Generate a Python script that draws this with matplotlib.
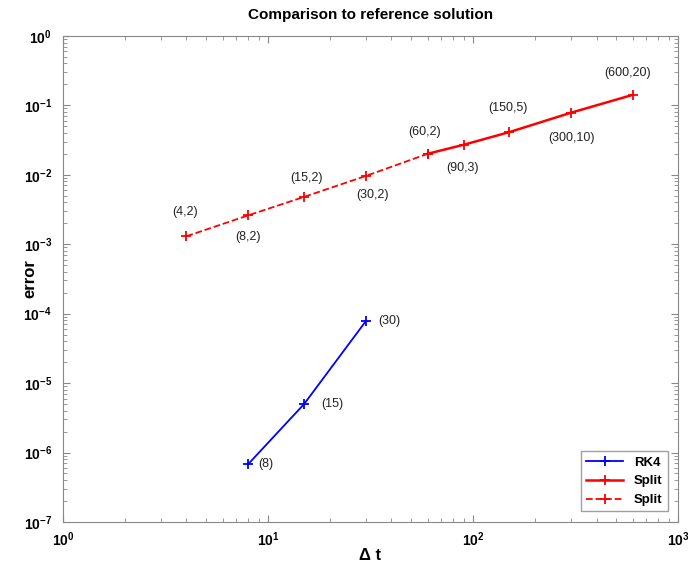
import matplotlib
matplotlib.use("Agg")
import matplotlib.pyplot as plt

plt.rcParams["font.family"] = ["Liberation Sans", "DejaVu Sans"]
plt.rcParams["mathtext.default"] = "regular"

# RK4 runs
rk4_dt = [8, 15, 30]
rk4_err = [6.8e-7, 5.0e-6, 7.8e-5]
rk4_labels = ["(8)", "(15)", "(30)"]

# split runs, large steps (solid)
split_dt = [60, 90, 150, 300, 600]
split_err = [0.020, 0.027, 0.041, 0.078, 0.141]
split_labels = ["(60,2)", "(90,3)", "(150,5)", "(300,10)", "(600,20)"]

# split runs, small steps (dashed)
split2_dt = [4, 8, 15, 30, 60]
split2_err = [1.3e-3, 2.6e-3, 4.8e-3, 9.6e-3, 0.020]
split2_labels = ["(4,2)", "(8,2)", "(15,2)", "(30,2)"]

fig = plt.figure(figsize=(6.88, 5.72), dpi=100)
ax = fig.add_axes([0.0916, 0.0874, 0.894, 0.85])

ax.loglog(rk4_dt, rk4_err, "b-", marker="+", ms=6.5, mew=1.3, lw=1.3, label="RK4")
ax.loglog(split_dt, split_err, "r-", marker="+", ms=6.5, mew=1.3, lw=1.8, label="Split")
ax.loglog(split2_dt, split2_err, "r--", marker="+", ms=6.5, mew=1.3, lw=1.3, label="Split")

# label offsets in pixels
rk4_off = [(10, 0), (17, 0), (12, 0)]
for x, y, s, (dx, dy) in zip(rk4_dt, rk4_err, rk4_labels, rk4_off):
  ax.annotate(s, (x, y), xytext=(dx, dy), textcoords="offset pixels",
              ha="left", va="center", fontsize=9, color="#222222")

split2_off = [(-1, 24), (0, -22), (2, 19), (7, -19)]
for x, y, s, (dx, dy) in zip(split2_dt, split2_err, split2_labels, split2_off):
  ax.annotate(s, (x, y), xytext=(dx, dy), textcoords="offset pixels",
              ha="center", va="center", fontsize=9, color="#222222")

split_off = [(-3, 22), (-1, -23), (-1, 24), (1, -25), (-5, 22)]
for x, y, s, (dx, dy) in zip(split_dt, split_err, split_labels, split_off):
  ax.annotate(s, (x, y), xytext=(dx, dy), textcoords="offset pixels",
              ha="center", va="center", fontsize=9, color="#222222")

ax.set_xlim(1, 1000)
ax.set_ylim(1e-7, 1)
ax.set_title("Comparison to reference solution", fontsize=11, fontweight="bold", pad=12)
ax.set_xlabel("Δ t", fontsize=12, fontweight="bold")
ax.set_ylabel("error", fontsize=12, fontweight="bold")
ax.xaxis.set_label_coords(0.5, -0.053)
ax.yaxis.set_label_coords(-0.041, 0.5)

for sp in ax.spines.values():
  sp.set_color("#888888")
ax.tick_params(which="both", direction="in", top=True, right=True, colors="#888888",
               labelcolor="black", labelsize=10)
ax.tick_params(which="major", length=5)
ax.tick_params(axis="x", which="major", pad=6)
ax.tick_params(axis="y", which="major", pad=8)
ax.tick_params(which="minor", length=3)
for lab in ax.get_xticklabels() + ax.get_yticklabels():
  lab.set_fontweight("bold")

leg = ax.legend(loc="lower right", fancybox=False, edgecolor="#888888",
                prop={"weight": "bold", "size": 9.5}, handlelength=2.8,
                borderaxespad=0.8)

fig.savefig("out.png", dpi=100)
